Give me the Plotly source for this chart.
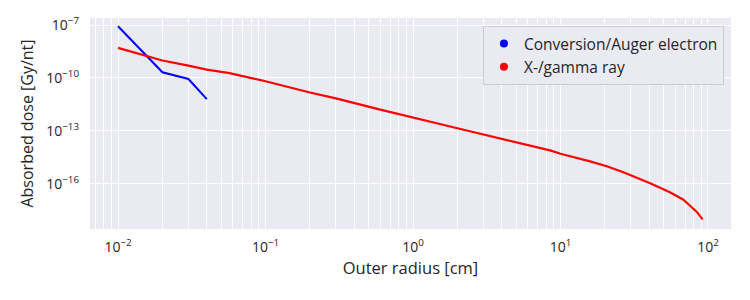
import plotly.graph_objects as go

# Conversion/Auger electron
blue_r = [0.01, 0.02, 0.03, 0.04]
blue_dose = [8.5e-8, 2.1e-10, 8.7e-11, 6.3e-12]

# X-/gamma ray
red_r = [0.01, 0.02, 0.03, 0.04, 0.057, 0.1, 0.2, 0.3, 0.6, 1.0, 2.0, 8.5, 10.0,
         15.85, 20.6, 26.7, 34.6, 40.5, 55.2, 68.1, 83.7, 92.0]
red_dose = [5.1e-9, 9.8e-10, 5.0e-10, 2.95e-10, 1.86e-10, 6.5e-11, 1.5e-11, 6.9e-12,
            1.6e-12, 5.9e-13, 1.4e-13, 7.8e-15, 5.0e-15,
            1.86e-15, 9.8e-16, 4.5e-16, 1.86e-16, 1.05e-16, 3.3e-17, 1.23e-17, 2.6e-18, 9.5e-19]

series_names = ["Conversion/Auger electron", "X-/gamma ray"]
x_tickvals = [0.01, 0.1, 1, 10, 100]
x_ticktext = ["10<sup>−2</sup>", "10<sup>−1</sup>", "10<sup>0</sup>", "10<sup>1</sup>", "10<sup>2</sup>"]
y_tickvals = [1e-7, 1e-10, 1e-13, 1e-16]
y_ticktext = ["10<sup>−7</sup>", "10<sup>−10</sup>", "10<sup>−13</sup>", "10<sup>−16</sup>"]

FONT = "Century Gothic, Open Sans, sans-serif"
TXT = "#262626"

fig = go.Figure()
fig.add_trace(go.Scatter(x=blue_r, y=blue_dose, mode="lines",
                         line=dict(color="#0000FF", width=2), showlegend=False))
fig.add_trace(go.Scatter(x=red_r, y=red_dose, mode="lines",
                         line=dict(color="#FF0000", width=2.2), showlegend=False))
# legend handles (dots)
for name, col in zip(series_names, ["#0000FF", "#FF0000"]):
    fig.add_trace(go.Scatter(x=[None], y=[None], mode="markers", name=name,
                             marker=dict(color=col, size=8)))

fig.update_layout(
    width=750, height=300,
    margin=dict(l=90, r=19, t=18, b=71),
    paper_bgcolor="white", plot_bgcolor="#EAEAF2",
    font=dict(family=FONT, color=TXT, size=14),
    legend=dict(x=0.989, y=0.962, xanchor="right", yanchor="top",
                bgcolor="#EAEAF2", bordercolor="#CCCCCC", borderwidth=1,
                font=dict(size=15.5, color=TXT), tracegroupgap=0,
                itemwidth=30),
)
fig.update_xaxes(type="log", range=[-2.19, 2.156], tickvals=x_tickvals, ticktext=x_ticktext,
                 showgrid=True, gridcolor="white", gridwidth=1.3,
                 minor=dict(showgrid=True, gridcolor="white", gridwidth=0.6, dtick="D1"),
                 zeroline=False, showline=False, ticks="", ticklabelstandoff=8,
                 tickfont=dict(size=14, color=TXT),
                 title=dict(text="Outer radius [cm]", font=dict(size=16.5, color=TXT), standoff=6))
fig.update_yaxes(type="log", range=[-18.57, -6.6], tickvals=y_tickvals, ticktext=y_ticktext,
                 showgrid=True, gridcolor="white", gridwidth=1.3,
                 zeroline=False, showline=False, ticks="", ticklabelstandoff=10,
                 tickfont=dict(size=14, color=TXT),
                 title=dict(text="Absorbed dose [Gy/nt]", font=dict(size=16, color=TXT), standoff=8))

fig.write_html("out.html")
